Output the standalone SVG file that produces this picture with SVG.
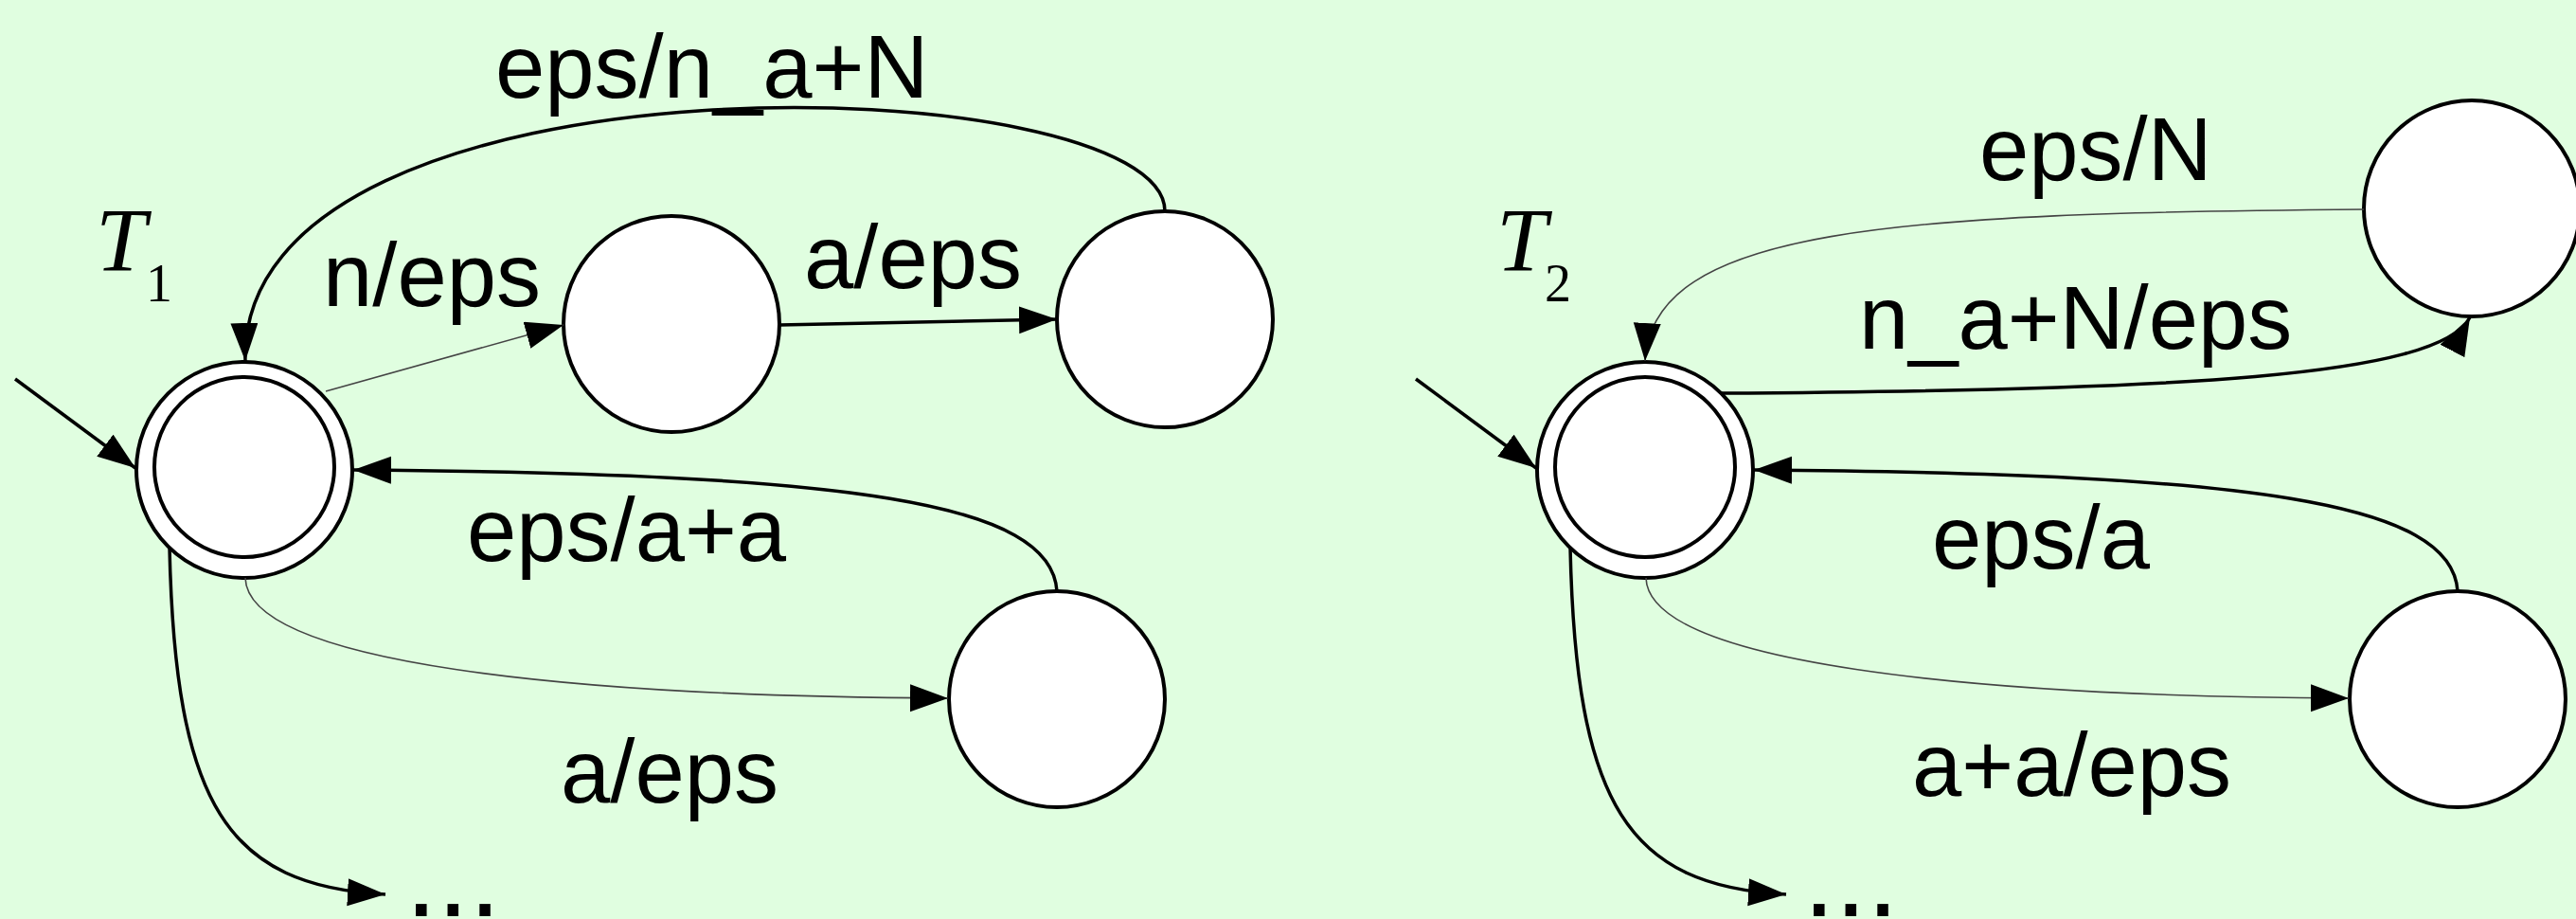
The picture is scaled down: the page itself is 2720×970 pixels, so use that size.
<svg xmlns="http://www.w3.org/2000/svg" width="2720" height="970" viewBox="0 0 2720 970">
<defs>
<style>
.st{fill:#fff;stroke:#000;stroke-width:4}
.thick{fill:none;stroke:#000;stroke-width:3.5}
.thin{fill:none;stroke:#444;stroke-width:1.6}
.lbl{font-family:"Liberation Sans",Arial,sans-serif;font-size:94px;fill:#000}
.dots{font-family:"Liberation Sans",Arial,sans-serif;font-size:121px;fill:#000}
.tn{font-family:"Liberation Serif","Times New Roman",serif;font-style:italic;font-size:96px;fill:#000}
.ts{font-family:"Liberation Serif","Times New Roman",serif;font-size:56px;fill:#000}
</style>
<marker id="ah" markerUnits="userSpaceOnUse" markerWidth="42" markerHeight="30" refX="40" refY="14.5" orient="auto">
<path d="M0,0 L40,14.5 L0,29 z" fill="#000"/>
</marker>
</defs>
<rect x="0" y="0" width="2720" height="970" fill="#E0FEE0"/>

<g id="T1-start"><circle class="st" cx="258" cy="496" r="114"/><circle class="st" cx="258" cy="493" r="95"/></g>
<g id="T1-q1"><circle class="st" cx="709" cy="342" r="114"/></g>
<g id="T1-q2"><circle class="st" cx="1230" cy="337" r="114"/></g>
<g id="T1-q3"><circle class="st" cx="1116" cy="738" r="114"/></g>

<g id="T2-start"><circle class="st" cx="1737" cy="496" r="114"/><circle class="st" cx="1737" cy="493" r="95"/></g>
<g id="T2-q1"><circle class="st" cx="2610" cy="220" r="114"/></g>
<g id="T2-q2"><circle class="st" cx="2595" cy="738" r="114"/></g>

<g id="connectors">
<path class="thick" d="M16 400 L143 494" marker-end="url(#ah)"/>
<path class="thin" d="M344 413 L595 343" marker-end="url(#ah)"/>
<path class="thick" d="M823 343 L1116 337" marker-end="url(#ah)"/>
<path class="thick" d="M1230 223 C1230 70 250 40 259 381" marker-end="url(#ah)"/>
<path class="thick" d="M1116 624 C1110 530 900 500 373 496" marker-end="url(#ah)"/>
<path class="thin" d="M259 610 C262 700 600 735 1001 737" marker-end="url(#ah)"/>
<path class="thick" d="M179 578 C185 850 240 935 407 944" marker-end="url(#ah)"/>

<path class="thick" d="M1495 400 L1622 494" marker-end="url(#ah)"/>
<path class="thin" d="M2496 221 C2000 225 1745 240 1737 381" marker-end="url(#ah)"/>
<path class="thick" d="M1817 415 C2300 412 2575 398 2608 335" marker-end="url(#ah)"/>
<path class="thick" d="M2595 624 C2589 530 2379 500 1852 496" marker-end="url(#ah)"/>
<path class="thin" d="M1738 610 C1741 700 2079 735 2480 737" marker-end="url(#ah)"/>
<path class="thick" d="M1658 578 C1664 850 1719 935 1886 944" marker-end="url(#ah)"/>
</g>

<g id="labels">
<text class="tn" x="101" y="286">T</text><text class="ts" x="154" y="318">1</text>
<text class="lbl" x="523" y="103">eps/n_a+N</text>
<text class="lbl" x="341" y="323">n/eps</text>
<text class="lbl" x="849" y="304">a/eps</text>
<text class="lbl" x="493" y="592">eps/a+a</text>
<text class="lbl" x="592" y="847">a/eps</text>
<text class="dots" x="428" y="967">...</text>

<text class="tn" x="1580" y="286">T</text><text class="ts" x="1631" y="318">2</text>
<text class="lbl" x="2090" y="190">eps/N</text>
<text class="lbl" x="1963" y="368">n_a+N/eps</text>
<text class="lbl" x="2040" y="600">eps/a</text>
<text class="lbl" x="2019" y="840">a+a/eps</text>
<text class="dots" x="1904" y="967">...</text>
</g>
</svg>
